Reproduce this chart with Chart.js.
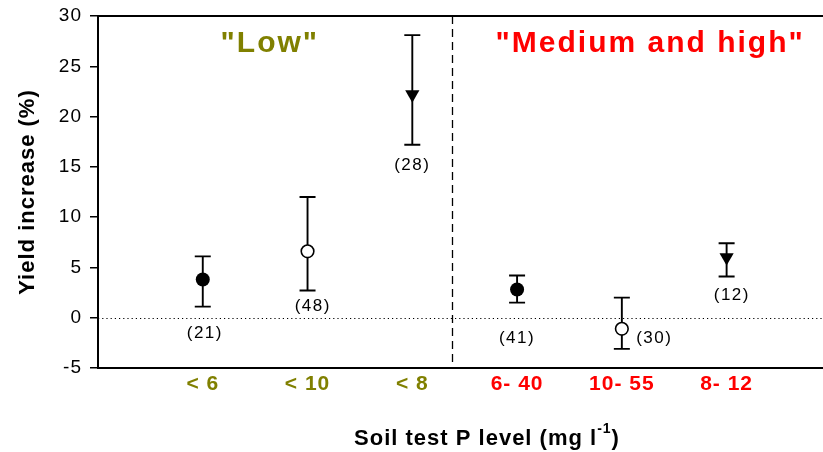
<!DOCTYPE html>
<html>
<head>
<meta charset="utf-8">
<script src="https://cdn.jsdelivr.net/npm/chart.js@4/dist/chart.umd.min.js"></script>
<style>
  html, body { margin: 0; padding: 0; background: #ffffff; }
  #wrap { width: 823px; height: 452px; }
</style>
</head>
<body>
<div id="wrap"><canvas id="c" width="823" height="452"></canvas></div>
<script>
// Soil-test P classes, grouped into "Low" and "Medium and high"
const categories = ['< 6', '< 10', '< 8', '6- 40', '10- 55', '8- 12'];
const groupOf = ['low', 'low', 'low', 'mid', 'mid', 'mid'];

// Mean yield increase (%) with upper / lower ends of the error bars
const meanIncrease = [3.8, 6.6, 22.2, 2.8, -1.1, 6.0];
const upperBar = [6.1, 12.0, 28.1, 4.2, 2.0, 7.4];
const lowerBar = [1.1, 2.7, 17.2, 1.5, -3.1, 4.1];

// Number of observations behind each mean
const sampleSizes = [21, 48, 28, 41, 30, 12];

// Marker kind for each class
const markerKind = ['filled', 'open', 'triangle', 'filled', 'open', 'triangle'];

const yTicks = [-5, 0, 5, 10, 15, 20, 25, 30];

// Text and colours
const groupTitles = { low: '"Low"', mid: '"Medium and high"' };
const groupColors = { low: '#808000', mid: '#ff0000' };
const FONT = "'Liberation Sans', Arial, Helvetica, sans-serif";

// Placement of annotations, in axis units
const layout = {
  xMax: 6.92,
  divider: 3.38,
  groupTitleX: { low: 1.64, mid: 5.27 },
  countX: [1.02, 2.05, 3.0, 4.0, 5.31, 6.05],
  countY: [-1.6, 1.1, 15.2, -2.0, -2.0, 2.2]
};

const points = categories.map((_, i) => ({ x: i + 1, y: meanIncrease[i] }));

const decorations = {
  id: 'decorations',
  beforeDraw(chart) {
    // slightly open tracking for the library-drawn tick labels
    chart.ctx.letterSpacing = '1px';
  },
  beforeDatasetsDraw(chart) {
    const { ctx, chartArea: a, scales: { x, y } } = chart;
    ctx.save();
    // zero reference line
    ctx.strokeStyle = '#000';
    ctx.lineWidth = 1;
    ctx.setLineDash([1.2, 3]);
    const y0 = Math.round(y.getPixelForValue(0)) + 0.5;
    ctx.beginPath(); ctx.moveTo(a.left, y0); ctx.lineTo(a.right, y0); ctx.stroke();
    // divider between the two groups
    ctx.setLineDash([8, 5]);
    ctx.lineWidth = 1.3;
    const xd = Math.round(x.getPixelForValue(layout.divider)) + 0.5;
    ctx.beginPath(); ctx.moveTo(xd, a.top); ctx.lineTo(xd, a.bottom); ctx.stroke();
    ctx.setLineDash([]);
    // top frame line
    ctx.lineWidth = 2;
    ctx.beginPath(); ctx.moveTo(a.left - 1, a.top); ctx.lineTo(a.right, a.top); ctx.stroke();
    // error bars
    ctx.lineWidth = 1.9;
    const cap = 8;
    categories.forEach((_, i) => {
      const px = x.getPixelForValue(i + 1);
      const pt = y.getPixelForValue(upperBar[i]);
      const pb = y.getPixelForValue(lowerBar[i]);
      ctx.beginPath();
      ctx.moveTo(px, pt); ctx.lineTo(px, pb);
      ctx.moveTo(px - cap, pt); ctx.lineTo(px + cap, pt);
      ctx.moveTo(px - cap, pb); ctx.lineTo(px + cap, pb);
      ctx.stroke();
    });
    ctx.restore();
  },
  afterDraw(chart) {
    const { ctx, chartArea: a, scales: { x, y } } = chart;
    ctx.save();
    // sample sizes
    ctx.fillStyle = '#000';
    ctx.font = `17px ${FONT}`;
    ctx.letterSpacing = '1.5px';
    ctx.textAlign = 'center';
    ctx.textBaseline = 'middle';
    sampleSizes.forEach((n, i) => {
      ctx.fillText(`(${n})`, x.getPixelForValue(layout.countX[i]), y.getPixelForValue(layout.countY[i]));
    });
    // group titles
    ctx.font = `bold 30px ${FONT}`;
    ctx.letterSpacing = '2px';
    ctx.textBaseline = 'alphabetic';
    ['low', 'mid'].forEach(g => {
      ctx.fillStyle = groupColors[g];
      ctx.fillText(groupTitles[g], x.getPixelForValue(layout.groupTitleX[g]), 52);
    });
    // y axis title
    ctx.fillStyle = '#000';
    ctx.font = `bold 22px ${FONT}`;
    ctx.letterSpacing = '1px';
    ctx.save();
    ctx.translate(34, (a.top + a.bottom) / 2);
    ctx.rotate(-Math.PI / 2);
    ctx.textAlign = 'center';
    ctx.fillText('Yield increase (%)', 0, 0);
    ctx.restore();
    // x axis title with superscript
    const partA = 'Soil test P level (mg l';
    const sup = '-1';
    const partB = ')';
    ctx.textAlign = 'left';
    ctx.font = `bold 22px ${FONT}`;
    const wA = ctx.measureText(partA).width;
    const wB = ctx.measureText(partB).width;
    ctx.font = `bold 14px ${FONT}`;
    const wS = ctx.measureText(sup).width;
    const total = wA + wS + wB;
    let sx = 487 - total / 2;
    const base = 445;
    ctx.font = `bold 22px ${FONT}`;
    ctx.fillText(partA, sx, base);
    sx += wA;
    ctx.font = `bold 14px ${FONT}`;
    ctx.fillText(sup, sx, base - 12);
    sx += wS;
    ctx.font = `bold 22px ${FONT}`;
    ctx.fillText(partB, sx, base);
    ctx.restore();
  }
};

new Chart(document.getElementById('c'), {
  type: 'scatter',
  data: {
    datasets: [{
      data: points,
      showLine: false,
      clip: false,
      pointStyle: ctx => markerKind[ctx.dataIndex] === 'triangle' ? 'triangle' : 'circle',
      pointRotation: ctx => markerKind[ctx.dataIndex] === 'triangle' ? 180 : 0,
      pointRadius: ctx => {
        const k = markerKind[ctx.dataIndex];
        return k === 'triangle' ? 8.2 : (k === 'open' ? 6.3 : 7);
      },
      pointBackgroundColor: ctx => markerKind[ctx.dataIndex] === 'open' ? '#ffffff' : '#000000',
      pointBorderColor: '#000000',
      pointBorderWidth: ctx => markerKind[ctx.dataIndex] === 'open' ? 1.6 : 0,
      pointHoverRadius: 7
    }]
  },
  options: {
    responsive: false,
    animation: false,
    devicePixelRatio: 1,
    layout: { autoPadding: false, padding: { top: 16, left: 0, right: 0, bottom: 0 } },
    plugins: { legend: { display: false }, tooltip: { enabled: false }, title: { display: false } },
    scales: {
      x: {
        type: 'linear',
        min: 0,
        max: layout.xMax,
        afterFit: s => { s.height = 84; s.paddingLeft = 0; s.paddingRight = 0; },
        afterBuildTicks: s => { s.ticks = categories.map((_, i) => ({ value: i + 1 })); },
        grid: { display: false, drawTicks: false },
        border: { display: true, color: '#000', width: 2 },
        ticks: {
          autoSkip: false,
          maxRotation: 0,
          padding: 4,
          font: { family: FONT, size: 21, weight: 'bold' },
          color: ctx => groupColors[groupOf[ctx.index]],
          callback: v => categories[v - 1] ?? ''
        }
      },
      y: {
        min: -5,
        max: 30,
        afterFit: s => { s.width = 98; s.paddingTop = 0; s.paddingBottom = 0; },
        afterBuildTicks: s => { s.ticks = yTicks.map(v => ({ value: v })); },
        grid: { drawOnChartArea: false, drawTicks: true, tickLength: 8, color: '#000', lineWidth: 1.5 },
        border: { display: true, color: '#000', width: 2 },
        ticks: {
          padding: 8,
          color: '#000',
          font: { family: FONT, size: 19 },
          callback: v => String(v)
        }
      }
    }
  },
  plugins: [decorations]
});
</script>
</body>
</html>
